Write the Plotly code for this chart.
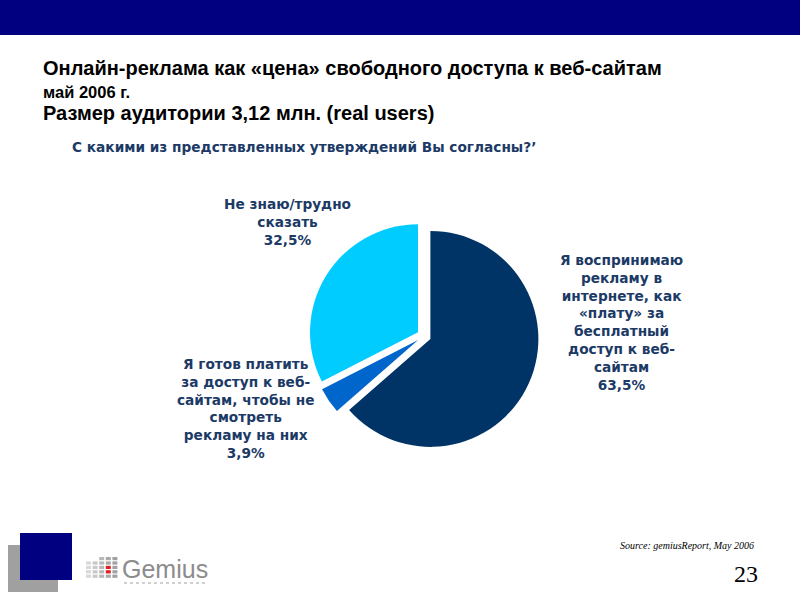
import plotly.graph_objects as go

# ---- data ----
labels = [
    "Я воспринимаю<br>рекламу в<br>интернете, как<br>«плату» за<br>бесплатный<br>доступ к веб-<br>сайтам",
    "Я готов платить<br>за доступ к веб-<br>сайтам, чтобы не<br>смотреть<br>рекламу на них",
    "Не знаю/трудно<br>сказать",
]
values = [63.5, 3.9, 32.5]
colors = ["#003366", "#0066CC", "#00CCFF"]
label_pos = [(621, 322), (245, 408), (287, 222)]  # pixel centres of label blocks

title_lines = [
    "Онлайн-реклама как «цена» свободного доступа к веб-сайтам",
    "май 2006 г.",
    "Размер аудитории 3,12 млн. (real users)",
]
question = "С какими из представленных утверждений Вы согласны?’"
source = "Source: gemiusReport, May 2006"
page_no = "23"

W, H = 800, 600
def px(x): return x / W
def py(y): return 1 - y / H

cx, cy, half = 424, 336, 115
fig = go.Figure(go.Pie(
    labels=[l.replace("<br>", " ") for l in labels],
    values=values,
    sort=False,
    direction="clockwise",
    rotation=0,
    pull=[0.065, 0.065, 0.065],
    marker=dict(colors=colors, line=dict(width=0)),
    textinfo="none",
    hoverinfo="label+percent",
    showlegend=False,
    domain=dict(x=[px(cx - half), px(cx + half)], y=[py(cy + half), py(cy - half)]),
))

anns = []
navy = "#1C3A66"
lab_font = "DejaVu Sans, Verdana, sans-serif"
for lab, v, (x, y) in zip(labels, values, label_pos):
    anns.append(dict(
        x=px(x), y=py(y), xref="paper", yref="paper", showarrow=False,
        text=f"<b>{lab}<br>{str(v).replace('.', ',')}%</b>",
        align="center", xanchor="center", yanchor="middle",
        font=dict(family=lab_font, size=13.7, color=navy),
    ))

# titles
anns.append(dict(x=px(41), y=py(68), xref="paper", yref="paper", showarrow=False,
                 text=f"<b>{title_lines[0]}</b>", xanchor="left", yanchor="middle",
                 font=dict(family="Liberation Sans, Arial", size=20, color="black")))
anns.append(dict(x=px(41), y=py(92), xref="paper", yref="paper", showarrow=False,
                 text=f"<b>{title_lines[1]}</b>", xanchor="left", yanchor="middle",
                 font=dict(family="Liberation Sans, Arial", size=16.5, color="black")))
anns.append(dict(x=px(41), y=py(113), xref="paper", yref="paper", showarrow=False,
                 text=f"<b>{title_lines[2]}</b>", xanchor="left", yanchor="middle",
                 font=dict(family="Liberation Sans, Arial", size=20, color="black")))
anns.append(dict(x=px(70), y=py(147), xref="paper", yref="paper", showarrow=False,
                 text=f"<b>{question}</b>", xanchor="left", yanchor="middle",
                 font=dict(family=lab_font, size=13.7, color=navy)))
anns.append(dict(x=px(756), y=py(545), xref="paper", yref="paper", showarrow=False,
                 text=f"<i>{source}</i>", xanchor="right", yanchor="middle",
                 font=dict(family="Liberation Serif, Times New Roman", size=10, color="black")))
anns.append(dict(x=px(760), y=py(574), xref="paper", yref="paper", showarrow=False,
                 text=page_no, xanchor="right", yanchor="middle",
                 font=dict(family="Liberation Serif, Times New Roman", size=24, color="black")))
anns.append(dict(x=px(120), y=py(569), xref="paper", yref="paper", showarrow=False,
                 text="Gemius", xanchor="left", yanchor="middle",
                 font=dict(family="Liberation Sans, Arial", size=25, color="#8C8C8C")))

shapes = []
def rect(x0, y0, x1, y1, color):
    shapes.append(dict(type="rect", xref="paper", yref="paper",
                       x0=px(x0), x1=px(x1), y0=py(y1), y1=py(y0),
                       fillcolor=color, line=dict(width=0), layer="below"))

rect(0, 0, 800, 35, "#000080")        # top bar
rect(8, 545, 58, 592, "#A0A0A0")       # gray square
rect(20, 533, 72, 580, "#000080")      # navy square
# logo grid
grays = ["#D8D8D8", "#C8C8C8", "#B8B8B8", "#A8A8A8", "#A0A0A0"]
for ci in range(5):
    for ri in range(5):
        if ci < 2 and ri == 0:
            continue
        x0 = 86 + ci * 6.6
        y0 = 557 + ri * 4.4
        col = grays[ci]
        if ci == 3 and ri in (2, 3):
            col = "#E02020"
        rect(x0, y0, x0 + 5, y0 + 3.2, col)
for k in range(14):
    rect(124 + k * 6, 582, 127 + k * 6, 584, "#D0D0D0")

fig.update_layout(
    width=W, height=H,
    margin=dict(l=0, r=0, t=0, b=0),
    paper_bgcolor="white", plot_bgcolor="white",
    annotations=anns, shapes=shapes,
)
fig.write_html("out.html", config={"displayModeBar": False},
               post_script="document.body.style.margin='0px';document.body.style.padding='0px';")
